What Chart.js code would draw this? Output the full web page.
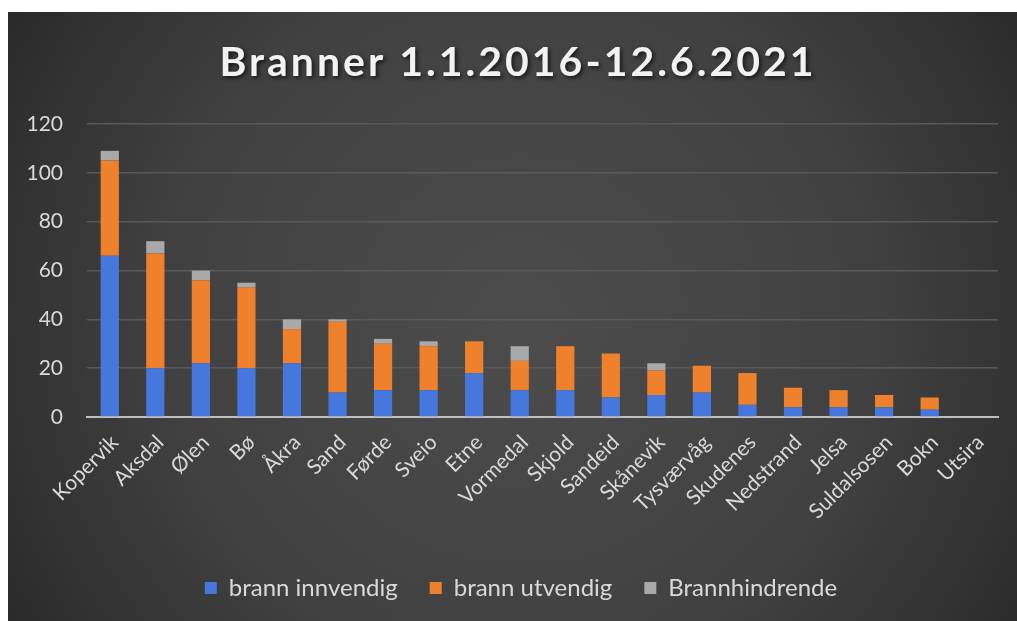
<!DOCTYPE html>
<html lang="no">
<head>
    <meta charset="UTF-8">
    <title>Branner 1.1.2016-12.6.2021</title>
    <script src="https://cdn.jsdelivr.net/npm/chart.js"></script>
    <style>
        body { margin: 0; padding: 0; background: #ffffff; }
        #wrap { width: 1017px; height: 621px; position: relative; }
    </style>
</head>
<body>
    <div id="wrap"><canvas id="chart"></canvas></div>

    <script>
        // Data lest av figuren
        const steder = ['Kopervik', 'Aksdal', 'Ølen', 'Bø', 'Åkra', 'Sand', 'Førde', 'Sveio', 'Etne', 'Vormedal',
            'Skjold', 'Sandeid', 'Skånevik', 'Tysværvåg', 'Skudenes', 'Nedstrand', 'Jelsa', 'Suldalsosen', 'Bokn', 'Utsira'];
        const brannInnvendig = [66, 20, 22, 20, 22, 10, 11, 11, 18, 11, 11, 8, 9, 10, 5, 4, 4, 4, 3, 0];
        const brannUtvendig = [39, 47, 34, 33, 14, 29, 19, 18, 13, 12, 18, 18, 10, 11, 13, 8, 7, 5, 5, 0];
        const brannhindrende = [4, 5, 4, 2, 4, 1, 2, 2, 0, 6, 0, 0, 3, 0, 0, 0, 0, 0, 0, 0];
        const yTicks = [0, 20, 40, 60, 80, 100, 120];
        const tittel = 'Branner 1.1.2016-12.6.2021';

        const fontFam = 'Lato, "Open Sans", sans-serif';
        const tekst = '#d9d9d9';

        // mørk bakgrunn med radial gradient, hvit kant øverst og til venstre
        const bakgrunn = {
            id: 'bakgrunn',
            beforeDraw(chart) {
                const ctx = chart.ctx;
                const w = chart.width, h = chart.height;
                ctx.save();
                ctx.fillStyle = '#ffffff';
                ctx.fillRect(0, 0, w, h);
                const g = ctx.createRadialGradient(520, 320, 20, 520, 320, 640);
                g.addColorStop(0, '#4c4c4c');
                g.addColorStop(0.55, '#404040');
                g.addColorStop(1, '#262626');
                ctx.fillStyle = g;
                ctx.fillRect(8, 12, w - 8, h - 12);
                ctx.restore();
            }
        };

        // tittel med sperrede bokstaver og skygge
        const tittelTegner = {
            id: 'tittelTegner',
            afterDraw(chart) {
                const ctx = chart.ctx;
                ctx.save();
                ctx.font = 'bold 41px ' + fontFam;
                ctx.letterSpacing = '3px';
                ctx.textAlign = 'center';
                ctx.textBaseline = 'middle';
                ctx.shadowColor = 'rgba(0,0,0,0.65)';
                ctx.shadowBlur = 4;
                ctx.shadowOffsetX = 2;
                ctx.shadowOffsetY = 2;
                ctx.fillStyle = '#f2f2f2';
                ctx.fillText(tittel, 518, 63);
                ctx.restore();
            }
        };

        // legenden står litt til høyre for midten i originalen
        const flyttLegende = {
            id: 'flyttLegende',
            afterLayout(chart) {
                chart.legend.left += 18;
                chart.legend.right += 18;
            }
        };

        new Chart(document.getElementById('chart'), {
            type: 'bar',
            data: {
                labels: steder,
                datasets: [
                    { label: 'brann innvendig', data: brannInnvendig, backgroundColor: '#4677dc' },
                    { label: 'brann utvendig', data: brannUtvendig, backgroundColor: '#f0812c' },
                    { label: 'Brannhindrende', data: brannhindrende, backgroundColor: '#a9a9a9' }
                ]
            },
            options: {
                responsive: true,
                maintainAspectRatio: false,
                animation: false,
                datasets: { bar: { categoryPercentage: 0.4, barPercentage: 1 } },
                layout: { padding: { left: 8, right: 19, top: 124, bottom: 11 } },
                plugins: {
                    title: { display: false },
                    legend: {
                        position: 'bottom',
                        labels: {
                            color: tekst,
                            font: { family: fontFam, size: 24 },
                            boxWidth: 12,
                            boxHeight: 12,
                            padding: 32
                        }
                    },
                    tooltip: { enabled: false }
                },
                scales: {
                    x: {
                        stacked: true,
                        grid: { display: false },
                        border: { color: '#bfbfbf', width: 2 },
                        ticks: {
                            color: tekst,
                            font: { family: fontFam, size: 21 },
                            minRotation: 45,
                            maxRotation: 45,
                            padding: 5,
                            labelOffset: 5
                        },
                        afterFit(scale) { scale.height = 127; }
                    },
                    y: {
                        stacked: true,
                        min: 0,
                        max: 120,
                        afterBuildTicks(scale) { scale.ticks = yTicks.map(v => ({ value: v })); },
                        border: { display: false },
                        grid: {
                            drawTicks: false,
                            color: ctx => ctx.tick && ctx.tick.value === 0 ? 'rgba(0,0,0,0)' : '#595959',
                            lineWidth: 1.5
                        },
                        ticks: {
                            color: tekst,
                            font: { family: fontFam, size: 21 },
                            padding: 24
                        },
                        afterFit(scale) { scale.width = 79; }
                    }
                }
            },
            plugins: [bakgrunn, tittelTegner, flyttLegende]
        });
    </script>
</body>
</html>
